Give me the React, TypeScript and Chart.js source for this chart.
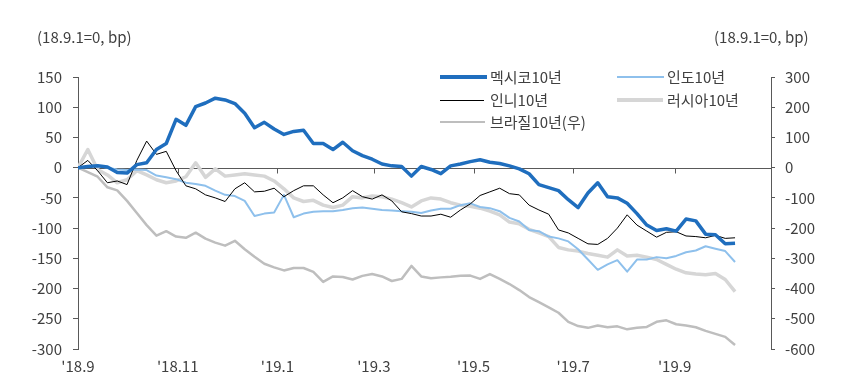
import React, { useEffect, useRef } from 'react';
import { Chart, registerables } from 'chart.js';
Chart.register(...registerables);

// day offsets since 2018-09-01
const days = [0,6,12,18,24,30,36,42,48,54,60,66,72,78,84,90,96,102,108,114,120,126,132,138,144,150,156,162,168,174,180,186,192,198,204,210,216,222,228,234,240,246,252,258,264,270,276,282,288,294,300,306,312,318,324,330,336,342,348,354,360,366,372,378,384,390,396,402];

const mexico = [0,2,3,1,-8,-9,5,8,30,40,80,70,101,107,115,112,106,90,66,75,64,55,60,62,40,40,30,42,28,20,14,6,3,2,-14,2,-3,-10,3,6,10,13,9,7,3,-2,-10,-28,-33,-38,-53,-66,-42,-25,-48,-50,-59,-76,-95,-104,-101,-105,-85,-88,-110,-111,-126,-125];

const india = [0,2,3,0,-3,-4,-3,-4,-13,-16,-19,-25,-27,-30,-38,-45,-47,-55,-80,-76,-74,-45,-82,-76,-73,-72,-72,-70,-67,-66,-68,-70,-71,-72,-73,-75,-71,-68,-68,-62,-59,-65,-67,-72,-83,-89,-103,-105,-114,-117,-122,-135,-152,-169,-160,-153,-172,-152,-152,-148,-150,-146,-140,-137,-130,-134,-138,-156];

const indonesia = [0,12,-5,-25,-22,-28,12,44,22,27,-5,-30,-35,-45,-50,-56,-35,-25,-40,-39,-34,-48,-38,-30,-30,-45,-58,-50,-38,-48,-52,-45,-55,-73,-76,-80,-80,-77,-82,-70,-60,-46,-40,-34,-43,-45,-62,-70,-77,-103,-108,-117,-126,-127,-117,-100,-78,-95,-105,-115,-107,-106,-113,-114,-116,-112,-117,-116];

const russia = [0,30,-3,-12,-25,-20,-5,-12,-20,-25,-22,-15,8,-16,-2,-14,-12,-10,-12,-14,-22,-35,-50,-56,-54,-62,-66,-62,-48,-50,-47,-48,-52,-58,-65,-55,-50,-52,-58,-62,-64,-67,-72,-78,-90,-93,-102,-108,-114,-132,-136,-138,-142,-145,-148,-136,-146,-145,-148,-152,-160,-168,-174,-176,-177,-175,-185,-205];

// right axis
const brazil = [0,-15,-30,-65,-75,-110,-150,-190,-225,-210,-228,-232,-215,-235,-248,-258,-242,-270,-295,-318,-330,-340,-332,-332,-345,-378,-360,-362,-370,-358,-352,-360,-375,-368,-325,-360,-366,-363,-361,-358,-357,-368,-352,-368,-385,-405,-428,-445,-462,-480,-510,-524,-530,-522,-528,-525,-535,-530,-527,-510,-505,-518,-522,-528,-540,-550,-560,-587];

const tickDays = [0, 61, 122, 181, 242, 303, 365];
const tickLabels = ["'18.9", "'18.11", "'19.1", "'19.3", "'19.5", "'19.7", "'19.9"];

const seriesNames = ['멕시코10년', '인니10년', '인도10년', '러시아10년', '브라질10년(우)'];

const FONT = '"Noto Sans CJK KR", "Noto Sans", sans-serif';
const AXIS = '#595959';
const TEXT = '#404040';

const zeroLine = {
  id: 'zeroLine',
  beforeDatasetsDraw(chart: any) {
    const { ctx, chartArea, scales } = chart;
    const y = Math.round(scales.y.getPixelForValue(0)) + 0.5;
    ctx.save();
    ctx.strokeStyle = AXIS;
    ctx.lineWidth = 1;
    ctx.beginPath();
    ctx.moveTo(chartArea.left, y);
    ctx.lineTo(chartArea.right, y);
    tickDays.forEach((d) => {
      const x = Math.round(scales.x.getPixelForValue(d)) + 0.5;
      ctx.moveTo(x, y);
      ctx.lineTo(x, y + 5);
    });
    ctx.stroke();
    ctx.restore();
  },
};

const pts = (vals: number[]) => days.map((d, i) => ({ x: d, y: vals[i] }));

export default function App() {
  const ref = useRef<HTMLCanvasElement | null>(null);
  useEffect(() => {
    if (!ref.current) return;
    const font = { family: FONT, size: 15 };
    const chart = new Chart(ref.current, {
      type: 'line',
      data: {
        datasets: [
          { label: seriesNames[0], data: pts(mexico), borderColor: '#1F6EBE', borderWidth: 3.5, yAxisID: 'y' },
          { label: seriesNames[1], data: pts(indonesia), borderColor: '#000000', borderWidth: 1, yAxisID: 'y' },
          { label: seriesNames[2], data: pts(india), borderColor: '#8EC0EC', borderWidth: 2, yAxisID: 'y' },
          { label: seriesNames[3], data: pts(russia), borderColor: '#D6D6D6', borderWidth: 3.5, yAxisID: 'y' },
          { label: seriesNames[4], data: pts(brazil), borderColor: '#BEBEBE', borderWidth: 2.5, yAxisID: 'y2' },
        ].map((d) => ({ ...d, pointRadius: 0, tension: 0, fill: false, borderJoinStyle: 'round' as const })),
      },
      options: {
        animation: false,
        responsive: false,
        maintainAspectRatio: false,
        layout: { padding: { top: 77, left: 0, right: 0, bottom: 0 } },
        plugins: { legend: { display: false }, tooltip: { enabled: false } },
        scales: {
          x: {
            type: 'linear',
            min: 0,
            max: 424,
            border: { display: false },
            grid: { display: false, drawTicks: false },
            afterBuildTicks: (s: any) => {
              s.ticks = tickDays.map((v) => ({ value: v }));
            },
            afterFit: (s: any) => {
              s.height = 32;
            },
            ticks: {
              autoSkip: false,
              maxRotation: 0,
              padding: 8,
              font,
              color: TEXT,
              callback: (v: any) => {
                const i = tickDays.indexOf(Number(v));
                return i >= 0 ? tickLabels[i] : '';
              },
            },
          },
          y: {
            position: 'left',
            min: -300,
            max: 150,
            border: { color: AXIS },
            grid: { drawOnChartArea: false, tickLength: 5, color: AXIS },
            ticks: { stepSize: 50, padding: 11, font, color: TEXT },
            afterFit: (s: any) => {
              s.width = 78;
            },
          },
          y2: {
            position: 'right',
            min: -600,
            max: 300,
            border: { color: AXIS },
            grid: { drawOnChartArea: false, tickLength: 4, color: AXIS },
            ticks: { stepSize: 100, padding: 10, font, color: TEXT },
            afterFit: (s: any) => {
              s.width = 83;
            },
          },
        },
      },
      plugins: [zeroLine],
    } as any);
    return () => chart.destroy();
  }, []);

  const txt: React.CSSProperties = {
    position: 'absolute',
    fontFamily: FONT,
    fontSize: 15,
    lineHeight: '18px',
    color: TEXT,
    whiteSpace: 'nowrap',
  };
  const legendItems = [
    { name: seriesNames[0], x: 440, y: 77, w: 47, color: '#1F6EBE', h: 3.5 },
    { name: seriesNames[2], x: 617, y: 77, w: 47, color: '#8EC0EC', h: 2 },
    { name: seriesNames[1], x: 440, y: 100, w: 44, color: '#000000', h: 1 },
    { name: seriesNames[3], x: 617, y: 100, w: 46, color: '#D6D6D6', h: 3.5 },
    { name: seriesNames[4], x: 440, y: 122, w: 45, color: '#BEBEBE', h: 2.5 },
  ];

  return (
    <div style={{ position: 'fixed', left: 0, top: 0, width: 854, height: 381, background: '#fff' }}>
      <canvas ref={ref} width={854} height={381} style={{ position: 'absolute', left: 0, top: 0, width: 854, height: 381 }} />
      <div style={{ ...txt, left: 37, top: 28 }}>(18.9.1=0, bp)</div>
      <div style={{ ...txt, left: 714, top: 28 }}>(18.9.1=0, bp)</div>
      {legendItems.map((it) => (
        <React.Fragment key={it.name}>
          <div style={{ position: 'absolute', left: it.x, top: it.y - it.h / 2, width: it.w, height: it.h, background: it.color }} />
          <div style={{ ...txt, left: it.x + 50, top: it.y - 9 }}>{it.name}</div>
        </React.Fragment>
      ))}
    </div>
  );
}
